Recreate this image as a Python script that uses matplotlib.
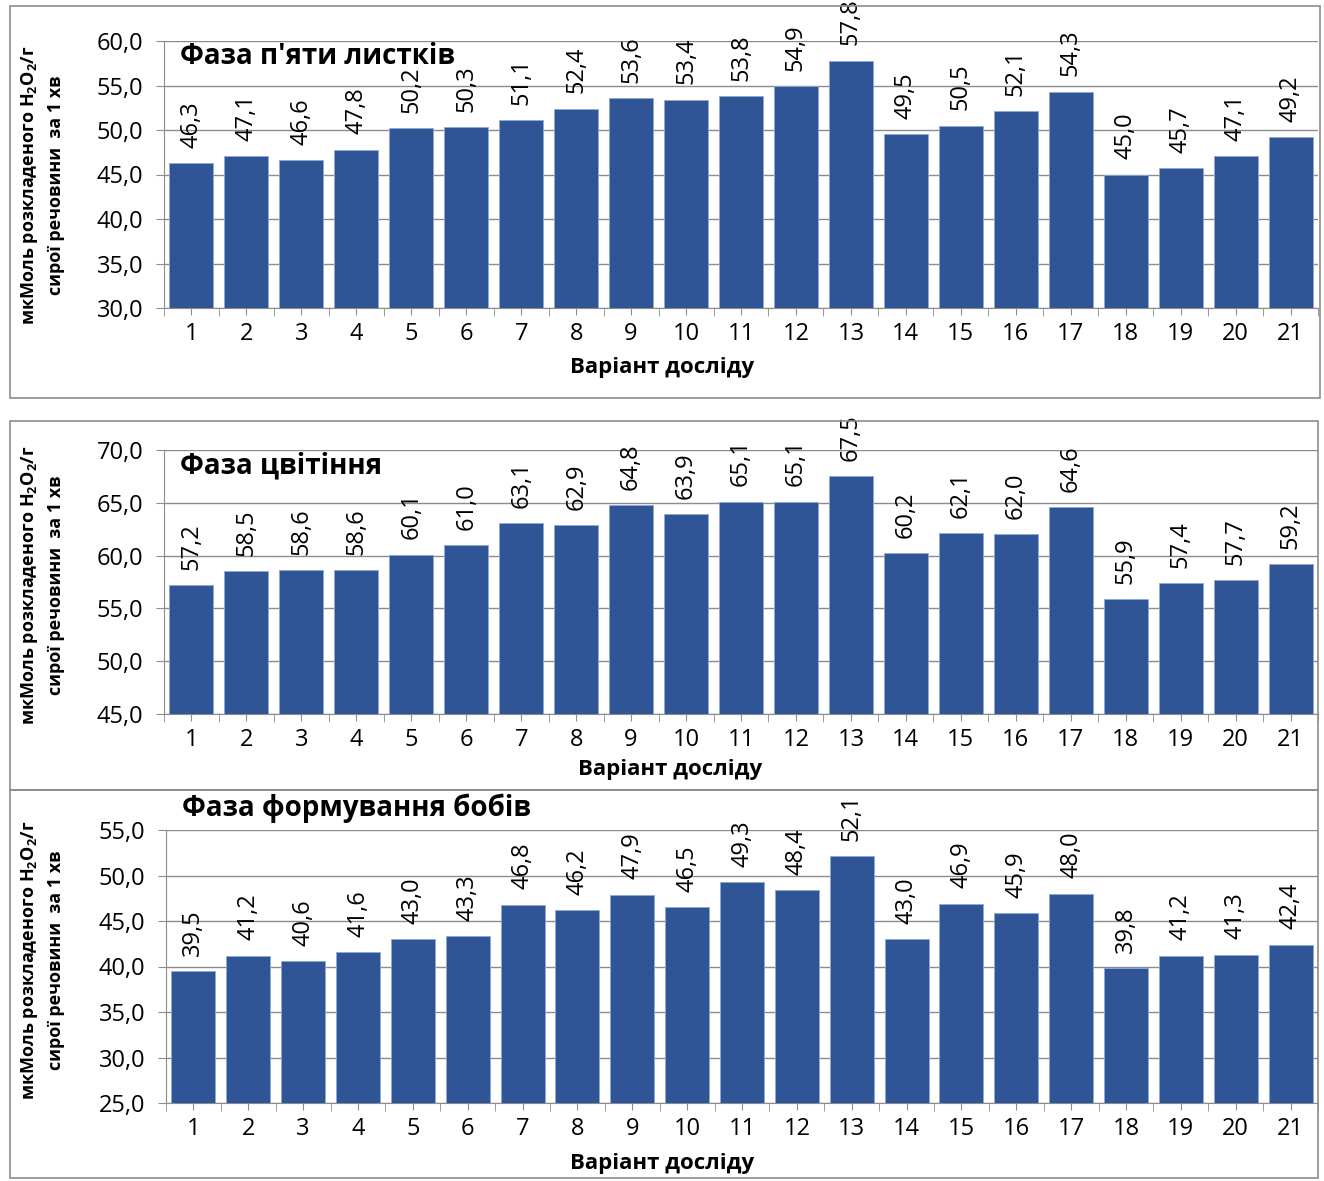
import matplotlib
matplotlib.use("Agg")
import matplotlib.pyplot as plt
import matplotlib.patches as patches
import numpy as np

plt.rcParams['font.family'] = ['Open Sans', 'DejaVu Sans']

variants = [str(i) for i in range(1, 22)]

five_leaves = [46.3, 47.1, 46.6, 47.8, 50.2, 50.3, 51.1, 52.4, 53.6, 53.4, 53.8,
               54.9, 57.8, 49.5, 50.5, 52.1, 54.3, 45.0, 45.7, 47.1, 49.2]
flowering = [57.2, 58.5, 58.6, 58.6, 60.1, 61.0, 63.1, 62.9, 64.8, 63.9, 65.1,
             65.1, 67.5, 60.2, 62.1, 62.0, 64.6, 55.9, 57.4, 57.7, 59.2]
pods = [39.5, 41.2, 40.6, 41.6, 43.0, 43.3, 46.8, 46.2, 47.9, 46.5, 49.3,
        48.4, 52.1, 43.0, 46.9, 45.9, 48.0, 39.8, 41.2, 41.3, 42.4]

titles = ["Фаза п'яти листків", "Фаза цвітіння", "Фаза формування бобів"]
ylims = [(30, 60), (45, 70), (25, 55)]
xlabel = "Варіант досліду"
ylabel = "мкМоль розкладеного H$_\\mathregular{2}$O$_\\mathregular{2}$/г\nсирої речовини  за 1 хв"

W, H = 1324, 1181
BAR = '#2F5597'
GRID = '#8C8C8C'

fig = plt.figure(figsize=(W / 100, H / 100), dpi=100)


def fx(px):
    return px / W


def fy(py):
    return 1 - py / H


# panel layout in pixels: box (x0, y0, x1, y1), axes (left, top, right, bottom)
boxes = [(10, 6, 1320, 398), (10, 421, 1318, 790), (10, 790, 1318, 1178)]
axes_px = [(164, 41, 1318, 308), (164, 450, 1318, 714), (166, 830, 1318, 1103)]
title_px = [(180, 57), (180, 466), (182, 808)]
xlab_px = [(662, 368), (670, 770), (662, 1163)]
ylab_py = [185, 585, 960]

for k, values in enumerate([five_leaves, flowering, pods]):
    x0, y0, x1, y1 = boxes[k]
    fig.patches.append(patches.Rectangle((fx(x0), fy(y1)), fx(x1 - x0), (y1 - y0) / H,
                                         transform=fig.transFigure, fill=False,
                                         edgecolor='#8C8C8C', linewidth=1.2))
    l, t, r, b = axes_px[k]
    ax = fig.add_axes([fx(l), fy(b), fx(r - l), (b - t) / H])
    x = np.arange(len(variants))
    ax.bar(x, values, width=0.8, color=BAR, edgecolor='#8FA8D8', linewidth=0.6, zorder=3)
    lo, hi = ylims[k]
    ax.set_ylim(lo, hi)
    ax.set_xlim(-0.5, len(variants) - 0.5)
    ax.set_yticks(np.arange(lo, hi + 0.1, 5))
    ax.set_yticklabels([f"{v:.1f}".replace('.', ',') for v in np.arange(lo, hi + 0.1, 5)],
                       fontsize=17)
    ax.set_xticks(x)
    ax.set_xticklabels(variants, fontsize=17)
    ax.set_xticks(np.arange(-0.5, len(variants)), minor=True)
    ax.tick_params(axis='x', which='major', length=5, color=GRID, pad=5)
    ax.tick_params(axis='x', which='minor', length=6, color=GRID)
    ax.tick_params(axis='y', length=6, color=GRID, pad=9)
    ax.yaxis.grid(True, color=GRID, linewidth=1.0, zorder=0)
    for side in ['top', 'right']:
        ax.spines[side].set_visible(False)
    ax.spines['left'].set_color(GRID)
    ax.spines['bottom'].set_color(GRID)
    for xi, v in zip(x, values):
        ax.annotate(f"{v:.1f}".replace('.', ','), (xi, v), xytext=(0, 11),
                    textcoords='offset points', rotation=90,
                    ha='center', va='bottom', fontsize=17, zorder=4)
    tx, ty = title_px[k]
    fig.text(fx(tx), fy(ty), titles[k], fontsize=20, fontweight='bold',
             ha='left', va='center')
    lx, ly = xlab_px[k]
    fig.text(fx(lx), fy(ly), xlabel, fontsize=16, fontweight='bold',
             ha='center', va='center')
    fig.text(fx(42), fy(ylab_py[k]), ylabel, fontsize=13, fontweight='bold',
             rotation=90, ha='center', va='center', multialignment='center',
             linespacing=1.45)

fig.savefig('out.png', dpi=100)
